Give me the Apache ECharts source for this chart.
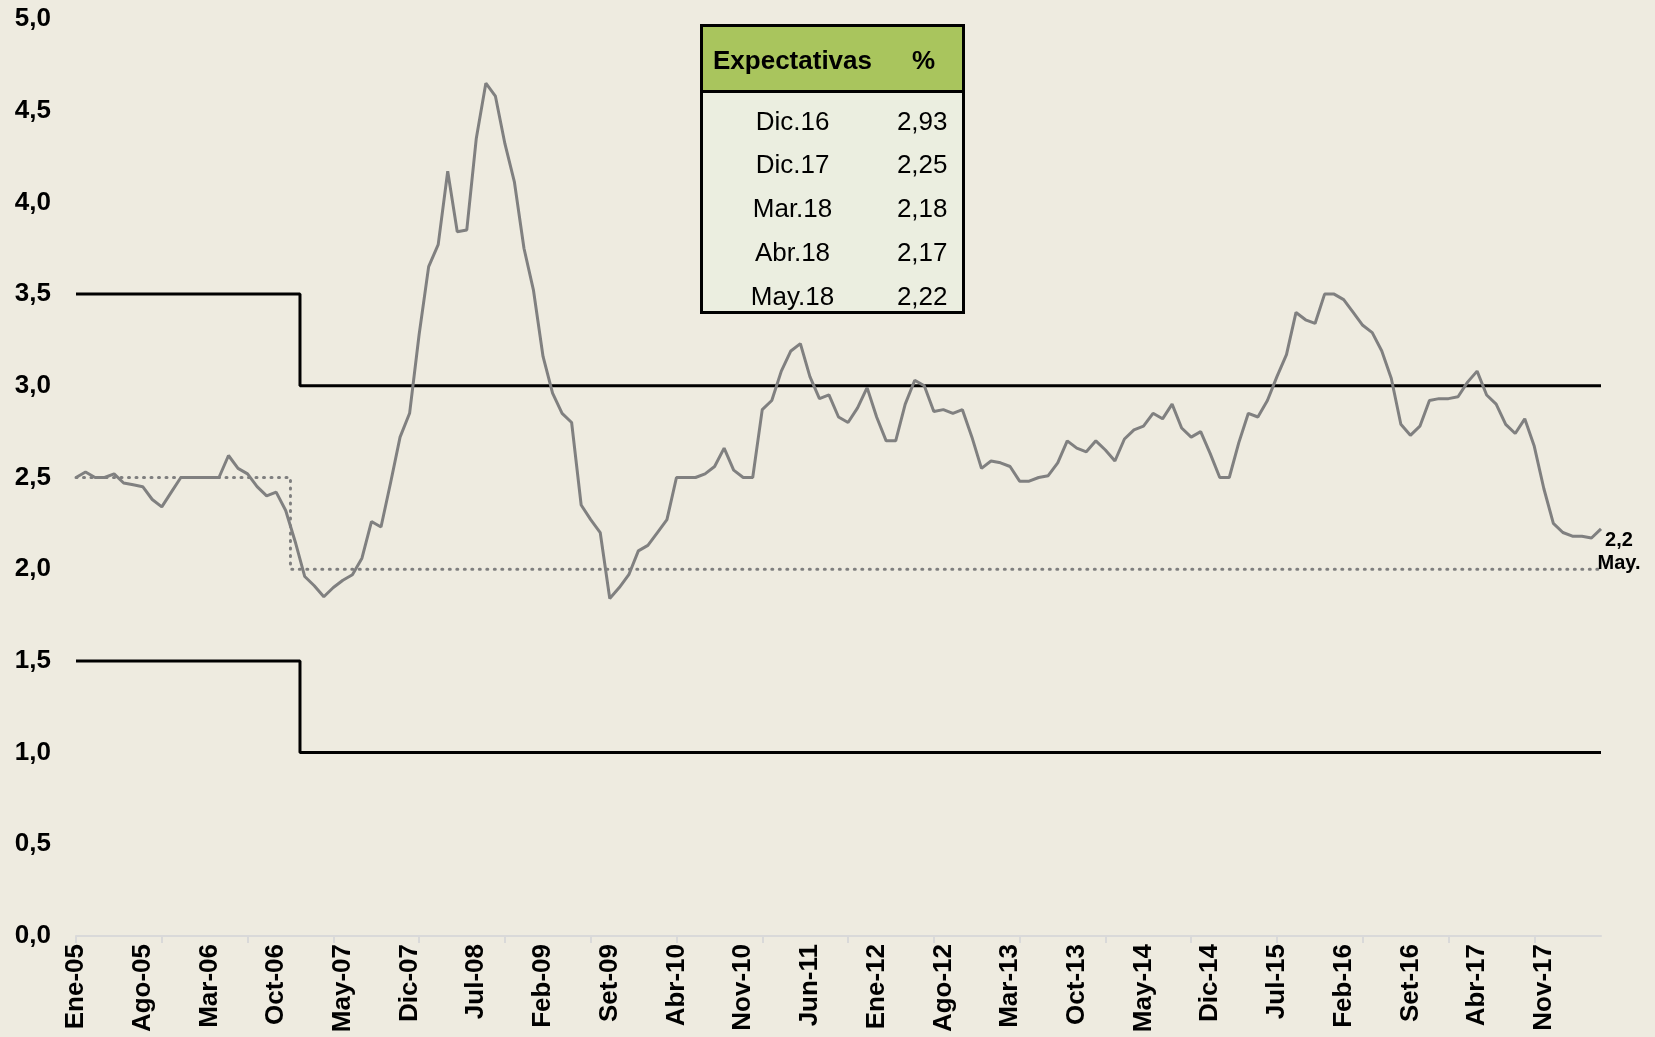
<!DOCTYPE html>
<html>
<head>
<meta charset="utf-8">
<script src="https://cdn.jsdelivr.net/npm/echarts@6/dist/echarts.min.js"></script>
<style>
  html, body { margin: 0; padding: 0; background: #eeebe0; }
  #chart { width: 1655px; height: 1037px; }
</style>
</head>
<body>
<div id="chart"></div>
<script>
// meses Ene-05 .. May-18
var monthNames = ['Ene', 'Feb', 'Mar', 'Abr', 'May', 'Jun', 'Jul', 'Ago', 'Set', 'Oct', 'Nov', 'Dic'];
var categories = [];
for (var y = 5; y <= 18; y++) {
  for (var m = 0; m < 12; m++) {
    if (y === 18 && m > 4) break;
    categories.push(monthNames[m] + '-' + (y < 10 ? '0' + y : y));
  }
}

// inflación (%) mensual
var inflacion = [
  2.50, 2.53, 2.50, 2.50, 2.52, 2.47, 2.46, 2.45, 2.38, 2.34,
  2.42, 2.50, 2.50, 2.50, 2.50, 2.50, 2.62, 2.55, 2.52, 2.45,
  2.40, 2.42, 2.32, 2.15, 1.96, 1.91, 1.85, 1.90, 1.94, 1.97,
  2.06, 2.26, 2.23, 2.47, 2.72, 2.85, 3.28, 3.65, 3.77, 4.17,
  3.84, 3.85, 4.35, 4.65, 4.58, 4.32, 4.11, 3.75, 3.52, 3.16,
  2.96, 2.85, 2.80, 2.35, 2.27, 2.20, 1.84, 1.90, 1.97, 2.10,
  2.13, 2.20, 2.27, 2.50, 2.50, 2.50, 2.52, 2.56, 2.66, 2.54,
  2.50, 2.50, 2.87, 2.92, 3.08, 3.19, 3.23, 3.05, 2.93, 2.95,
  2.83, 2.80, 2.88, 2.99, 2.83, 2.70, 2.70, 2.90, 3.03, 3.00,
  2.86, 2.87, 2.85, 2.87, 2.72, 2.55, 2.59, 2.58, 2.56, 2.48,
  2.48, 2.50, 2.51, 2.58, 2.70, 2.66, 2.64, 2.70, 2.65, 2.59,
  2.71, 2.76, 2.78, 2.85, 2.82, 2.90, 2.77, 2.72, 2.75, 2.63,
  2.50, 2.50, 2.69, 2.85, 2.83, 2.92, 3.05, 3.17, 3.40, 3.36,
  3.34, 3.50, 3.50, 3.47, 3.40, 3.33, 3.29, 3.19, 3.04, 2.79,
  2.73, 2.78, 2.92, 2.93, 2.93, 2.94, 3.02, 3.08, 2.95, 2.90,
  2.79, 2.74, 2.82, 2.67, 2.44, 2.25, 2.20, 2.18, 2.18, 2.17, 2.22
];

// rango meta y meta puntual (escalones)
var rangoSup = [['Ene-05', 3.5], ['Dic-06', 3.5], ['Ene-07', 3.0], ['May-18', 3.0]];
var rangoInf = [['Ene-05', 1.5], ['Dic-06', 1.5], ['Ene-07', 1.0], ['May-18', 1.0]];
var meta = [['Ene-05', 2.5], ['Nov-06', 2.5], ['Dic-06', 2.0], ['May-18', 2.0]];

// tabla de expectativas
var tablaHeader = ['Expectativas', '%'];
var tablaLabels = ['Dic.16', 'Dic.17', 'Mar.18', 'Abr.18', 'May.18'];
var tablaValues = ['2,93', '2,25', '2,18', '2,17', '2,22'];

var fontFam = "'Liberation Sans', Arial, sans-serif";

function fmt(v) {
  return v.toFixed(1).replace('.', ',');
}

var tableChildren = [
  { type: 'rect', shape: { x: 0, y: 0, width: 262, height: 287 },
    style: { fill: '#ebeee0', stroke: null } },
  { type: 'rect', shape: { x: 0, y: 0, width: 262, height: 66 },
    style: { fill: '#a9c55d', stroke: null } },
  { type: 'line', shape: { x1: 0, y1: 66, x2: 262, y2: 66 },
    style: { stroke: '#000', lineWidth: 3 } },
  { type: 'text', x: 91, y: 36,
    style: { text: tablaHeader[0], font: 'bold 26px ' + fontFam, fill: '#000', align: 'center', verticalAlign: 'middle' } },
  { type: 'text', x: 222, y: 36,
    style: { text: tablaHeader[1], font: 'bold 26px ' + fontFam, fill: '#000', align: 'center', verticalAlign: 'middle' } }
];
tablaLabels.forEach(function (lab, i) {
  tableChildren.push({ type: 'text', x: 91, y: 97 + i * 43.8,
    style: { text: lab, font: '26px ' + fontFam, fill: '#000', align: 'center', verticalAlign: 'middle' } });
  tableChildren.push({ type: 'text', x: 246, y: 97 + i * 43.8,
    style: { text: tablaValues[i], font: '26px ' + fontFam, fill: '#000', align: 'right', verticalAlign: 'middle' } });
});
tableChildren.push({ type: 'rect', shape: { x: 0, y: 0, width: 262, height: 287 },
  style: { fill: null, stroke: '#000', lineWidth: 3 }, z2: 10 });

var chart = echarts.init(document.getElementById('chart'));
chart.setOption({
  backgroundColor: '#eeebe0',
  animation: false,
  grid: { left: 76, right: 54, top: 19, bottom: 101 },
  xAxis: {
    type: 'category',
    data: categories,
    boundaryGap: false,
    axisLine: { show: true, lineStyle: { color: '#d9d9d9', width: 2 } },
    axisTick: { show: true, interval: 8, length: 7, lineStyle: { color: '#d9d9d9', width: 2 } },
    axisLabel: {
      interval: 6,
      rotate: 90,
      margin: 8,
      color: '#000',
      fontWeight: 'bold',
      fontSize: 26,
      fontFamily: fontFam
    },
    splitLine: { show: false }
  },
  yAxis: {
    type: 'value',
    min: 0,
    max: 5,
    interval: 0.5,
    axisLine: { show: false },
    axisTick: { show: false },
    splitLine: { show: false },
    axisLabel: {
      margin: 25,
      color: '#000',
      fontWeight: 'bold',
      fontSize: 26,
      fontFamily: fontFam,
      formatter: fmt
    }
  },
  graphic: [
    { type: 'group', left: 699, top: 23, children: tableChildren }
  ],
  series: [
    {
      name: 'Meta',
      type: 'line',
      data: meta,
      step: 'middle',
      symbol: 'none',
      lineStyle: { color: '#7f7f7f', width: 3, type: [1, 6.5], cap: 'round' },
      z: 1
    },
    {
      name: 'Rango superior',
      type: 'line',
      data: rangoSup,
      step: 'middle',
      symbol: 'none',
      lineStyle: { color: '#000', width: 3 },
      z: 2
    },
    {
      name: 'Rango inferior',
      type: 'line',
      data: rangoInf,
      step: 'middle',
      symbol: 'none',
      lineStyle: { color: '#000', width: 3 },
      z: 2
    },
    {
      name: 'Inflación',
      type: 'line',
      data: inflacion,
      symbol: 'none',
      lineStyle: { color: '#808080', width: 3 },
      z: 3,
      endLabel: {
        show: true,
        formatter: function (p) { return fmt(p.value) + '\nMay.'; },
        color: '#000',
        fontWeight: 'bold',
        fontSize: 20,
        fontFamily: fontFam,
        lineHeight: 23,
        align: 'center',
        verticalAlign: 'middle',
        distance: 0,
        offset: [18, 23]
      }
    }
  ]
});
</script>
</body>
</html>
